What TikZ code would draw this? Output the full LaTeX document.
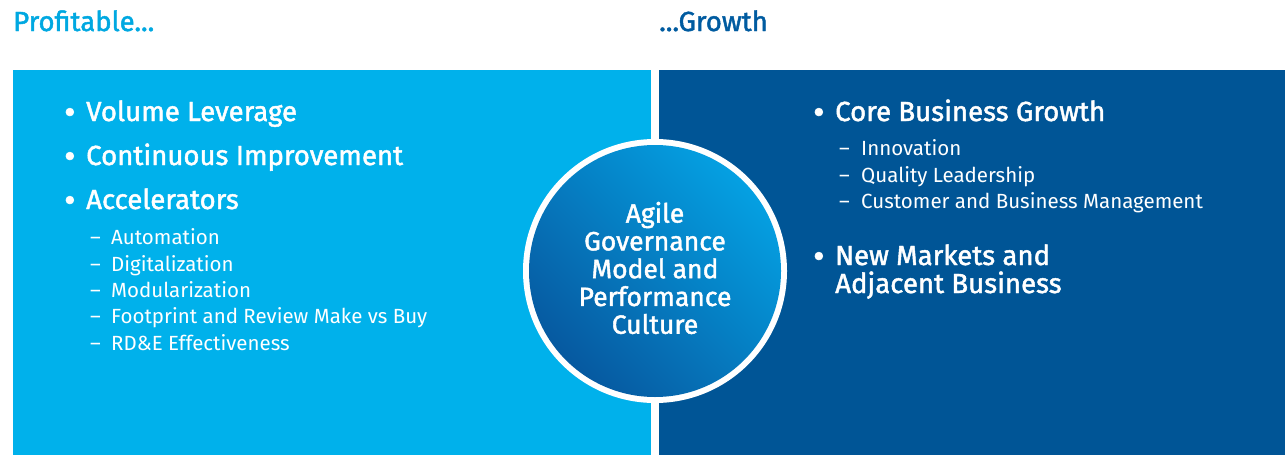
\documentclass[tikz,border=0pt]{standalone}
\usepackage{fontspec}
\setmainfont{Fira Sans}
\newfontfamily\medfont[FakeBold=1.6]{Fira Sans}
\newfontfamily\lightfont{Fira Sans}
\definecolor{leftblue}{HTML}{00B1EB}
\definecolor{rightblue}{HTML}{005596}
\definecolor{titlelight}{HTML}{00A8E1}
\definecolor{titledark}{HTML}{005BA0}
\definecolor{circlelight}{HTML}{05A0E2}
\definecolor{circledark}{HTML}{0659A0}
\tikzset{
  title/.style={anchor=base west, inner sep=0pt, font=\medfont\fontsize{27.6}{32}\selectfont},
  bigitem/.style={anchor=base west, inner sep=0pt, text=white, font=\medfont\fontsize{27.6}{32}\selectfont},
  subitem/.style={anchor=base west, inner sep=0pt, text=white, font=\lightfont\fontsize{20.5}{24}\selectfont},
  dot/.style={anchor=base west, inner sep=0pt, text=white, font=\medfont\fontsize{35}{40}\selectfont},
  circletext/.style={align=center, inner sep=0pt, text=white, font=\medfont\fontsize{26.5}{27.8}\selectfont},
}
\begin{document}
\begin{tikzpicture}[x=1pt,y=-1pt]
\useasboundingbox (0,0) rectangle (1285,455);
% titles
\node[title, text=titlelight] (tprof) at (13,31) {Profitable...};
\node[title, text=titledark] (tgrow) at (659,31) {...Growth};
% panels
\fill[leftblue] (13,70) rectangle (651,455);
\fill[rightblue] (659,70) rectangle (1285,455);
% circle
\fill[white] (655,271) circle (132);
\shade[top color=circlelight, bottom color=circledark, shading angle=-45] (655,271) circle (126);
\node[circletext] (ctext) at (655,268) {Agile\\Governance\\Model and\\Performance\\Culture};
% left list
\node[dot] (b1) at (64,124) {•};
\node[bigitem] (l1) at (86,121) {Volume Leverage};
\node[dot] (b2) at (64,168) {•};
\node[bigitem] (l2) at (86,165) {Continuous Improvement};
\node[dot] (b3) at (64,212) {•};
\node[bigitem] (l3) at (86,209) {Accelerators};
\node[subitem] (d1) at (90,244) {–};
\node[subitem] (s1) at (111,244) {Automation};
\node[subitem] (d2) at (90,271) {–};
\node[subitem] (s2) at (111,271) {Digitalization};
\node[subitem] (d3) at (90,297) {–};
\node[subitem] (s3) at (111,297) {Modularization};
\node[subitem] (d4) at (90,323) {–};
\node[subitem] (s4) at (111,323) {Footprint and Review Make vs Buy};
\node[subitem] (d5) at (90,350) {–};
\node[subitem] (s5) at (111,350) {RD\&E Effectiveness};
% right list
\node[dot] (b4) at (813,124) {•};
\node[bigitem] (r1) at (835,121) {Core Business Growth};
\node[subitem] (d6) at (839,155) {–};
\node[subitem] (s6) at (861,155) {Innovation};
\node[subitem] (d7) at (839,182) {–};
\node[subitem] (s7) at (861,182) {Quality Leadership};
\node[subitem] (d8) at (839,208) {–};
\node[subitem] (s8) at (861,208) {Customer and Business Management};
\node[dot] (b5) at (813,268) {•};
\node[bigitem] (r2) at (835,265) {New Markets and};
\node[bigitem] (r3) at (835,293) {Adjacent Business};
\end{tikzpicture}
\end{document}
